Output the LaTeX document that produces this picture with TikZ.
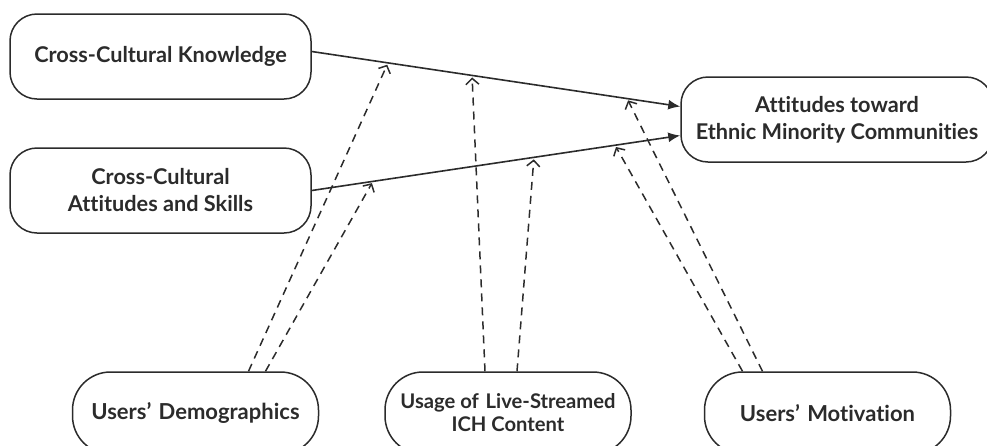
\documentclass[tikz,border=0pt]{standalone}
\usepackage{fontspec}
\setmainfont{Lato}[Ligatures=NoCommon]
\usetikzlibrary{arrows.meta, calc}
\definecolor{inkgray}{HTML}{2B2B2B}
\tikzstyle{topbox} = [rectangle, rounded corners=27pt,
minimum width=301pt,
minimum height=85pt,
text centered, align=center,
draw=inkgray, line width=1.5pt, text=inkgray,
font=\fontsize{21.7}{27}\selectfont\bfseries]
\tikzstyle{bottombox} = [rectangle, rounded corners=38pt,
minimum width=246pt,
minimum height=82pt,
text centered, align=center,
draw=inkgray, line width=1.5pt, text=inkgray,
font=\fontsize{22}{23}\selectfont\bfseries]
\tikzstyle{mainarrow} = [-{Latex[length=12pt,width=10pt]}, draw=inkgray, line width=1.6pt]
\tikzstyle{modarrow} = [-{Straight Barb[length=6pt,width=13pt,line width=1.5pt]}, draw=inkgray, line width=1.5pt,
dash pattern=on 8pt off 6pt, shorten >=2pt]

\begin{document}
\begin{tikzpicture}[x=1pt, y=-1pt, node distance=134pt]
		\useasboundingbox (0,0) rectangle (987,445);
		\clip (0,0) rectangle (987,445);
		\node (cck) [topbox] at (160.5,56.5) {Cross-Cultural Knowledge};
		\node (ccas) [topbox, below of=cck] {Cross-Cultural\\Attitudes and Skills};
		\node (att) [topbox, minimum width=312pt] at (837,119.5) {Attitudes toward\\Ethnic Minority Communities};
		\node (demo) [bottombox] at (195.5,413) {Users'\,\,Demographics};
		\node (usage) [bottombox, font=\fontsize{20.2}{23}\selectfont\bfseries] at (508,413) {Usage of\,\,Live-Streamed\\ICH Content};
		\node (motiv) [bottombox] at (827.5,413) {Users'\,\,Motivation};
		
		\coordinate (kin) at ([yshift=5pt]cck.east);
		\coordinate (kout) at ([yshift=13pt]att.west);
		\coordinate (sout) at ([yshift=-16pt]att.west);
		\draw [mainarrow](kin) -- (kout);
		\draw [mainarrow](ccas.east) -- (sout);
		
		\coordinate (k1) at ($(kin)!0.207!(kout)$);
		\coordinate (k2) at ($(kin)!0.435!(kout)$);
		\coordinate (k3) at ($(kin)!0.856!(kout)$);
		\coordinate (s1) at ($(ccas.east)!0.166!(sout)$);
		\coordinate (s2) at ($(ccas.east)!0.603!(sout)$);
		\coordinate (s3) at ($(ccas.east)!0.823!(sout)$);
		
		\draw [modarrow]([xshift=53pt]demo.north) -- (k1);
		\draw [modarrow]([xshift=70pt]demo.north) -- (s1);
		\draw [modarrow]([xshift=-23pt]usage.north) -- (k2);
		\draw [modarrow]([xshift=9pt]usage.north) -- (s2);
		\draw [modarrow]([xshift=-65pt]motiv.north) -- (k3);
		\draw [modarrow]([xshift=-85pt]motiv.north) -- (s3);
	\end{tikzpicture}
\end{document}
